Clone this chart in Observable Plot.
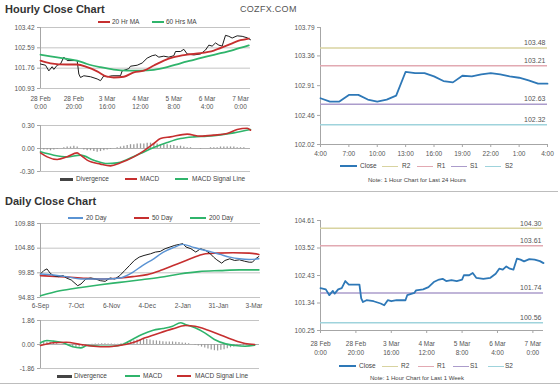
<!DOCTYPE html>
<html><head><meta charset="utf-8">
<script src="https://cdn.jsdelivr.net/npm/d3@7"></script>
<script src="https://cdn.jsdelivr.net/npm/@observablehq/plot@0.6"></script>
<style>
body{margin:0;background:#fff}
#root{position:relative;width:560px;height:385px;overflow:hidden;font-family:"Liberation Sans",Arial,sans-serif;color:#444;background:#fff}
.t{position:absolute;white-space:nowrap}
.title{font-weight:bold;font-size:11px;color:#333}
.lg{font-size:6.5px;color:#444;line-height:8px}
.sw{position:absolute}
</style></head><body><div id="root"></div>
<script>
// ---------- Hourly (1 week) close, shared by top-left and bottom-right ----------
const weekHours = [0,3,5,7,8,10,12,14,16,21,22,23,24,26,30,34,36,38,40,43,48,49,53,54,58,61,64,67,69,71,74,77,80,81,84,86,88,92,96,99,101,103,105,107,109,111,113,115,118,121,124,126];
const weekClose = [101.93,101.88,101.65,101.82,101.71,101.88,101.93,102.21,102.07,102.07,102.07,101.52,101.38,101.45,101.41,101.32,101.25,101.45,101.41,101.45,101.45,101.65,101.74,101.84,101.88,101.97,102.17,102.27,102.30,102.21,102.25,102.21,102.27,102.44,102.44,102.53,102.34,102.30,102.34,102.50,102.70,102.66,102.79,102.70,102.66,103.10,103.06,102.99,103.08,103.06,103.00,102.92];
const ma20Hours = [0,6,16,22,28,34,40,44,50,56,62,68,74,80,88,96,104,112,120,125];
const ma20 = [102.07,101.96,101.91,101.91,101.80,101.63,101.41,101.38,101.41,101.59,101.66,101.87,102.07,102.21,102.31,102.37,102.48,102.69,102.90,102.97];
const ma60Hours = [0,6,16,22,28,36,44,52,60,68,76,84,92,100,108,116,125];
const ma60 = [102.31,102.24,102.14,102.07,101.93,101.80,101.70,101.66,101.66,101.69,101.80,101.96,102.10,102.24,102.37,102.51,102.69];
const macdHours = [0,4,10,16,22,24,28,36,42,48,56,62,68,72,78,88,96,104,112,118,124,126];
const macdH = [-0.057,-0.109,-0.143,-0.109,-0.057,-0.087,-0.152,-0.204,-0.226,-0.187,-0.109,-0.030,0.065,0.130,0.152,0.187,0.161,0.174,0.196,0.248,0.265,0.239];
const signalHours = [0,8,16,24,32,40,46,52,60,68,76,84,92,100,108,116,126];
const signalH = [-0.043,-0.087,-0.109,-0.087,-0.152,-0.196,-0.187,-0.143,-0.065,0.013,0.078,0.130,0.152,0.161,0.178,0.204,0.248];
// divergence, one bar every 2 hours from hour 0
const divH = [-0.01,-0.02,-0.02,-0.03,-0.02,-0.01, 0.0,0.01,0.02,0.02, 0.03,0.02,0.0,
  -0.02,-0.03,-0.03,-0.04,-0.05,-0.04,-0.03,-0.02,-0.01,0, 0.01,0.02,0.03,0.04,
  0.05,0.05,0.06,0.06,0.06,0.07,0.07,0.06,0.06,0.05,0.05,0.05,0.04,0.04,
  0.03,0.03,0.02,0.01,0.01,0,0, -0.01,0,0,0.01,0.01,0.01,0.02,0.02,0.02,0.02,0.02,0.01,0.01,0.01,0,0];
const weekXTicks = [0,20,40,60,80,100,120];
const weekXLabels = ["28 Feb\n0:00","28 Feb\n20:00","3 Mar\n16:00","4 Mar\n12:00","5 Mar\n8:00","6 Mar\n4:00","7 Mar\n0:00"];
const hourlyYTicks = [100.93,101.76,102.59,103.42];
const macdHTicks = [-0.30,0.00,0.30];

// ---------- Last 24 hours ----------
const dayHours = [0,1,2,3,4,5,6,7,8,9,10,11,12,13,14,15,16,17,18,19,20,21,22,23,24];
const dayClose = [102.72,102.67,102.67,102.77,102.77,102.70,102.67,102.70,102.76,103.12,103.10,103.10,103.05,102.98,102.96,103.06,103.05,103.08,103.10,103.08,103.05,103.03,102.99,102.94,102.94];
const dayXTicks = [0,3,6,9,12,15,18,21,24];
const dayXLabels = ["4:00","7:00","10:00","13:00","16:00","19:00","22:00","1:00","4:00"];
const dayYTicks = [102.02,102.46,102.91,103.36,103.79];
const levelNames = ["R2","R1","S1","S2"];
const dayLevels = [103.48,103.21,102.63,102.32];
const weekLevels = [104.30,103.61,101.74,100.56];
const weekYTicks = [100.25,101.34,102.43,103.52,104.61];

// ---------- Daily ----------
const dailyDays = [0,2,4,6,8,11,14,16,19,23,25,28,31,34,37,40,43,46,49,52,55,58,61,64,68,71,74,77,80,83,86,88,90,93,96,99,102,105,107,109,112,114,117,120,123,126,129,131,133,135];
const dailyClose = [99.62,100.30,100.65,99.76,99.28,99.07,99.28,98.80,98.39,97.23,97.57,98.59,98.80,98.59,98.25,98.12,98.80,98.59,99.28,100.30,101.33,102.36,103.04,103.38,103.72,104.07,104.20,104.75,105.09,105.43,105.64,105.78,105.09,104.75,104.07,104.75,104.41,103.72,103.04,102.49,101.81,102.36,102.70,102.36,102.49,102.22,102.01,102.01,102.70,103.18];
const ma20dDays = [0,8,16,25,33,41,49,57,63,70,76,82,88,94,100,106,111,117,123,129,135];
const ma20d = [99.62,99.41,99.07,98.59,98.59,98.59,98.80,99.96,101.33,102.70,104.07,104.96,105.64,105.09,104.55,104.07,103.59,103.04,102.70,102.56,102.70];
const ma50dDays = [0,12,25,37,49,57,66,74,82,90,98,102,109,119,129,135];
const ma50d = [99.28,99.07,98.80,98.59,98.80,99.07,99.48,100.30,101.33,102.36,103.38,103.72,103.86,103.93,103.86,103.59];
const ma200dDays = [0,12,25,37,49,61,74,86,98,111,123,135];
const ma200d = [95.17,96.20,96.88,97.43,97.91,98.39,98.94,99.62,100.10,100.30,100.44,100.44];
const dMacdDays = [0,4,8,14,20,25,29,37,45,51,57,63,70,76,82,87,90,96,102,108,115,121,127,133];
const dMacd = [0.13,0.31,0.26,0.13,-0.18,-0.26,-0.08,-0.13,-0.13,0,0.39,0.78,1.11,1.24,1.42,1.68,1.55,1.29,0.90,0.39,0.05,-0.08,-0.13,-0.05];
const dSignalDays = [0,8,16,25,33,41,49,57,65,74,82,90,96,102,111,119,127,133];
const dSignal = [-0.08,0.13,0.18,0,-0.13,-0.18,-0.08,0.13,0.52,0.90,1.21,1.47,1.42,1.21,0.78,0.39,0.08,0];
// divergence, one bar every 2 days from day 0
const divD = [0.15,0.2,0.2,0.15,0.1,0.05, 0,-0.02,-0.05,-0.1, -0.2,-0.25,-0.2,-0.15,-0.1,-0.05,
  0.02,0.03,0.04,0.05,0.05,0.04,0.03,0.02,0.02,0.05, 0.1,0.18,0.25,0.3,0.35,
  0.38,0.4,0.38,0.35,0.3,0.28,0.25,0.22,0.2,0.2,0.2,0.18,0.15,0.12,0.1, 0.05,0,-0.05,
  -0.12,-0.2,-0.28,-0.35,-0.42,-0.48,-0.5,-0.45,-0.4,-0.32, -0.25,-0.2,-0.15,-0.12,-0.1,-0.08,-0.06,-0.05,-0.04];
const dailyXTicks = [0,22,44,66,88,110,132];
const dailyXLabels = ["6-Sep","7-Oct","6-Nov","4-Dec","2-Jan","31-Jan","3-Mar"];
const dailyYTicks = [94.83,99.85,104.86,109.88];
const macdDTicks = [-1.86,0.00,1.86];

// ---------- helpers ----------
const tab = (xs, vs) => xs.map((x, i) => ({x, v: vs[i]}));
const step = (vs, s) => vs.map((v, i) => ({x: i * s, v}));
const root = document.getElementById("root");
function put(el, left, top) { el.style.position = "absolute"; el.style.left = left + "px"; el.style.top = top + "px"; root.appendChild(el); return el; }
function txt(s, cls, left, top, css) { const d = document.createElement("div"); d.className = "t " + cls; d.textContent = s; if (css) d.style.cssText += css; return put(d, left, top); }
function legend(items, y) {
  for (const it of items) {
    const s = document.createElement("div"); s.className = "sw";
    s.style.width = it.w + "px"; s.style.height = it.th + "px"; s.style.background = it.c;
    put(s, it.sx, y - it.th / 2);
    txt(it.label, "lg", it.tx, y - 4);
  }
}
const st = {fontFamily: "Liberation Sans, Arial, sans-serif", fontSize: "6.5px", color: "#555", background: "transparent", overflow: "visible"};
const GRID = "#c4c4c4", AX = "#a6a6a6", RED = "#c62f2f", GREEN = "#2fb46b", BLUE = "#2e78b7", LBLUE = "#5a93d3";
const levelColors = ["#d8d3a0","#e2a9b2","#ab9ccb","#9fd3dc"];
const yAxis = ticks => Plot.axisY({ticks, tickFormat: d => d.toFixed(2), tickSize: 3, tickPadding: 3, stroke: AX, fill: "#555", label: null});

// ---------- titles ----------
txt("Hourly Close Chart", "title", 5, 3);
txt("COZFX.COM", "", 240, 4, "font-size:9px;color:#555;letter-spacing:0.3px");
txt("Daily Close Chart", "title", 5, 195);
const sep1 = document.createElement("div"); sep1.style.cssText = "width:478px;border-top:1.5px solid #bdbdbd"; put(sep1, 80, 191);
const sep2 = document.createElement("div"); sep2.style.cssText = "width:560px;border-top:1.5px solid #bdbdbd"; put(sep2, 0, 383);

// ---------- Panel A: hourly close + MAs ----------
put(Plot.plot({
  width: 262, height: 100, marginLeft: 40, marginRight: 12, marginTop: 10, marginBottom: 29,
  x: {domain: [0, 126], axis: null}, y: {domain: [100.93, 103.42], axis: null}, style: st,
  marks: [
    Plot.gridY(hourlyYTicks, {stroke: GRID, strokeOpacity: 1}),
    Plot.ruleX([0], {stroke: AX}),
    yAxis(hourlyYTicks),
    Plot.line(tab(weekHours, weekClose), {x: "x", y: "v", stroke: "#1c1c1c", strokeWidth: 1}),
    Plot.line(tab(ma60Hours, ma60), {x: "x", y: "v", stroke: GREEN, strokeWidth: 1.8, curve: "monotone-x"}),
    Plot.line(tab(ma20Hours, ma20), {x: "x", y: "v", stroke: RED, strokeWidth: 1.8, curve: "monotone-x"}),
    Plot.text(weekXTicks, {x: d => d, text: (d, i) => weekXLabels[i], frameAnchor: "bottom", lineAnchor: "top", dy: 7, lineHeight: 1.22, fill: "#555"})
  ]
}), 0, 17);
legend([
  {sx: 98, w: 12, th: 2, c: RED, tx: 112, label: "20 Hr MA"},
  {sx: 152, w: 12, th: 2, c: GREEN, tx: 166, label: "60 Hrs MA"}
], 22);

// ---------- Panel B: hourly MACD ----------
put(Plot.plot({
  width: 262, height: 60, marginLeft: 40, marginRight: 12, marginTop: 10, marginBottom: 4,
  x: {domain: [0, 126], axis: null}, y: {domain: [-0.3, 0.3], axis: null}, style: st,
  marks: [
    Plot.gridY([-0.3, 0.3], {stroke: GRID, strokeOpacity: 1}),
    Plot.ruleY([0], {stroke: "#b0b0b0"}),
    Plot.ruleX([0], {stroke: AX}),
    yAxis(macdHTicks),
    Plot.ruleX(step(divH, 2), {x: "x", y1: 0, y2: "v", stroke: "#9a9a9a", strokeWidth: 1.3}),
    Plot.line(tab(signalHours, signalH), {x: "x", y: "v", stroke: GREEN, strokeWidth: 1.6, curve: "monotone-x"}),
    Plot.line(tab(macdHours, macdH), {x: "x", y: "v", stroke: RED, strokeWidth: 1.6, curve: "monotone-x"})
  ]
}), 0, 115);
legend([
  {sx: 60, w: 13, th: 3, c: "#444", tx: 76, label: "Divergence"},
  {sx: 125, w: 12, th: 1.5, c: RED, tx: 140, label: "MACD"},
  {sx: 175, w: 13, th: 1.5, c: GREEN, tx: 192, label: "MACD Signal Line"}
], 179);

// ---------- right-hand pivot charts ----------
function pivotPlot(o) {
  const marks = [
    Plot.ruleX([o.xd[0]], {stroke: AX}),
    Plot.ruleY([o.yd[0]], {stroke: AX}),
    yAxis(o.yTicks)
  ];
  o.levels.forEach((v, i) => {
    marks.push(Plot.ruleY([v], {stroke: levelColors[i], strokeWidth: 1.5}));
    marks.push(Plot.text([v], {y: d => d, text: d => d.toFixed(2), frameAnchor: "right", textAnchor: "end", dx: -2, dy: -5, fill: "#555", fontSize: 7}));
  });
  marks.push(Plot.line(o.data, {x: "x", y: "v", stroke: BLUE, strokeWidth: 1.8}));
  marks.push(...o.xMarks);
  return Plot.plot({
    width: o.w, height: o.h, marginLeft: 40, marginRight: o.mr, marginTop: 10, marginBottom: o.mb,
    x: {domain: o.xd, axis: null}, y: {domain: o.yd, axis: null}, style: st, marks
  });
}
put(pivotPlot({
  w: 275, h: 145, mr: 8, mb: 18, xd: [0, 24], yd: [102.02, 103.79], yTicks: dayYTicks, levels: dayLevels,
  data: tab(dayHours, dayClose),
  xMarks: [Plot.axisX({ticks: dayXTicks, tickFormat: d => dayXLabels[dayXTicks.indexOf(d)], tickSize: 3, tickPadding: 4, stroke: AX, fill: "#555", label: null})]
}), 280, 17);
function pivotLegend(y, pos) {
  const items = [{sx: pos[0][0], w: 17, th: 2, c: BLUE, tx: pos[0][1], label: "Close"}];
  levelNames.forEach((n, i) => items.push({sx: pos[i + 1][0], w: 16, th: 1, c: levelColors[i], tx: pos[i + 1][1], label: n}));
  legend(items, y);
}
pivotLegend(166, [[340, 360], [382, 402], [417, 437], [451, 470], [485, 505]]);
txt("Note: 1 Hour Chart for Last 24 Hours", "", 368, 177, "font-size:6px;color:#444");

put(pivotPlot({
  w: 270, h: 150, mr: 7, mb: 30, xd: [0, 126], yd: [100.25, 104.61], yTicks: weekYTicks, levels: weekLevels,
  data: tab(weekHours, weekClose),
  xMarks: [
    Plot.axisX({ticks: weekXTicks, tickFormat: () => "", tickSize: 3, stroke: AX, label: null}),
    Plot.text(weekXTicks, {x: d => d, text: (d, i) => weekXLabels[i], frameAnchor: "bottom", lineAnchor: "top", dy: 9, lineHeight: 1.38, fill: "#555"})
  ]
}), 280, 210);
pivotLegend(366, [[339, 359], [382, 401], [418, 437], [453, 470], [488, 505]]);
txt("Note: 1 Hour Chart for Last 1 Week", "", 370, 375, "font-size:6px;color:#444");

// ---------- Panel D: daily close + MAs ----------
put(Plot.plot({
  width: 268, height: 100, marginLeft: 40, marginRight: 8, marginTop: 10, marginBottom: 16,
  x: {domain: [0, 136], axis: null}, y: {domain: [94.83, 109.88], axis: null}, style: st,
  marks: [
    Plot.gridY(dailyYTicks, {stroke: GRID, strokeOpacity: 1}),
    Plot.ruleX([0], {stroke: AX}),
    yAxis(dailyYTicks),
    Plot.line(tab(ma200dDays, ma200d), {x: "x", y: "v", stroke: GREEN, strokeWidth: 1.6, curve: "monotone-x"}),
    Plot.line(tab(ma50dDays, ma50d), {x: "x", y: "v", stroke: RED, strokeWidth: 1.6, curve: "monotone-x"}),
    Plot.line(tab(dailyDays, dailyClose), {x: "x", y: "v", stroke: "#1c1c1c", strokeWidth: 1}),
    Plot.line(tab(ma20dDays, ma20d), {x: "x", y: "v", stroke: LBLUE, strokeWidth: 1.4, curve: "monotone-x"}),
    Plot.text(dailyXTicks, {x: d => d, text: (d, i) => dailyXLabels[i], frameAnchor: "bottom", lineAnchor: "top", dy: 6, fill: "#555"})
  ]
}), 0, 213);
legend([
  {sx: 68, w: 15, th: 2, c: LBLUE, tx: 86, label: "20 Day"},
  {sx: 134, w: 15, th: 2, c: RED, tx: 152, label: "50 Day"},
  {sx: 190, w: 16, th: 2, c: GREEN, tx: 209, label: "200 Day"}
], 218);

// ---------- Panel E: daily MACD ----------
put(Plot.plot({
  width: 268, height: 62, marginLeft: 40, marginRight: 9, marginTop: 10, marginBottom: 4,
  x: {domain: [0, 136], axis: null}, y: {domain: [-1.86, 1.86], axis: null}, style: st,
  marks: [
    Plot.gridY([-1.86, 1.86], {stroke: GRID, strokeOpacity: 1}),
    Plot.ruleY([0], {stroke: "#b0b0b0"}),
    Plot.ruleX([0], {stroke: AX}),
    yAxis(macdDTicks),
    Plot.ruleX(step(divD, 2), {x: "x", y1: 0, y2: "v", stroke: "#9a9a9a", strokeWidth: 1.2}),
    Plot.line(tab(dMacdDays, dMacd), {x: "x", y: "v", stroke: GREEN, strokeWidth: 1.6, curve: "monotone-x"}),
    Plot.line(tab(dSignalDays, dSignal), {x: "x", y: "v", stroke: RED, strokeWidth: 1.6, curve: "monotone-x"})
  ]
}), 0, 310);
legend([
  {sx: 57, w: 15, th: 3, c: "#444", tx: 74, label: "Divergence"},
  {sx: 125, w: 15, th: 1.5, c: GREEN, tx: 143, label: "MACD"},
  {sx: 177, w: 14, th: 1.5, c: RED, tx: 195, label: "MACD Signal Line"}
], 376);
</script></body></html>
